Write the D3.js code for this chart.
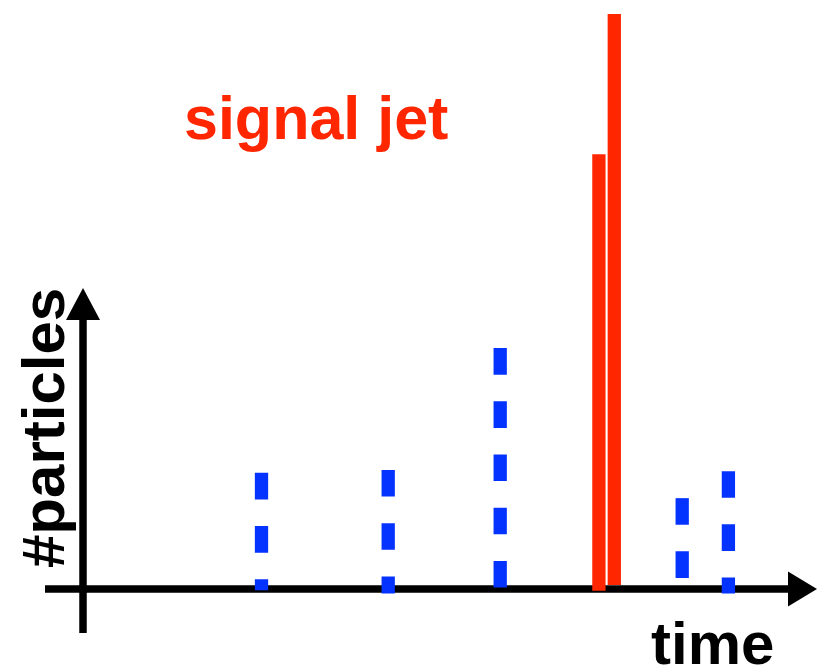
<!DOCTYPE html>
<html>
<head>
<meta charset="utf-8">
<script src="https://cdn.jsdelivr.net/npm/d3@7"></script>
<style>
  html, body { margin: 0; padding: 0; background: #ffffff; }
  svg { display: block; }
  text { font-family: "Liberation Sans", Arial, Helvetica, sans-serif; font-weight: bold; }
</style>
</head>
<body>
<div id="chart"></div>
<script>
// Background particles: time of arrival and particle count (dashed blue lines)
const bgTime  = [25.5, 43.6, 59.6, 85.6, 92.2];
const bgCount = [2.02, 2.07, 4.19, 1.58, 2.05];
const bgBase  = [-0.02, -0.08, -0.08, -0.08, -0.08];

// Signal jet: two tall solid red spikes
const sigTime  = [73.7, 75.9];
const sigCount = [7.56, 10.0];
const sigBase  = [-0.03, 0.07];

const labels = { signal: "signal jet", xTitle: "time", yTitle: "#particles" };

const W = 818, H = 669;
const blue = "#0433ff", red = "#ff2600";

const svg = d3.select("#chart").append("svg")
  .attr("width", W).attr("height", H);

const x = d3.scaleLinear().domain([0, 100]).range([83, 783]);
const y = d3.scaleLinear().domain([0, 10]).range([589, 14]);

// Axes with arrowheads
const x0 = x(0), y0 = y(0);
const axis = svg.append("g");
axis.append("line")
  .attr("x1", 45).attr("x2", 790)
  .attr("y1", y0).attr("y2", y0)
  .attr("stroke", "#000").attr("stroke-width", 7.5);
axis.append("path")
  .attr("d", `M${788},${y0 - 17.5} L${817},${y0} L${788},${y0 + 17.5} Z`)
  .attr("fill", "#000");
axis.append("line")
  .attr("x1", x0).attr("x2", x0)
  .attr("y1", 633).attr("y2", 318)
  .attr("stroke", "#000").attr("stroke-width", 7.5);
axis.append("path")
  .attr("d", `M${x0 - 17},${320} L${x0},${288} L${x0 + 17},${320} Z`)
  .attr("fill", "#000");

// Dashed background lines, dash pattern starting at the top
svg.append("g").selectAll("line")
  .data(d3.range(bgTime.length))
  .join("line")
  .attr("x1", i => x(bgTime[i])).attr("x2", i => x(bgTime[i]))
  .attr("y1", i => y(bgCount[i])).attr("y2", i => y(bgBase[i]))
  .attr("stroke", blue)
  .attr("stroke-width", 13.3)
  .attr("stroke-dasharray", "26.6 26.6");

// Signal spikes
svg.append("g").selectAll("line")
  .data(d3.range(sigTime.length))
  .join("line")
  .attr("x1", i => x(sigTime[i])).attr("x2", i => x(sigTime[i]))
  .attr("y1", i => y(sigCount[i])).attr("y2", i => y(sigBase[i]))
  .attr("stroke", red)
  .attr("stroke-width", 13.3);

// Labels
svg.append("text")
  .attr("x", 184).attr("y", 138.5)
  .attr("font-size", 61)
  .attr("fill", red)
  .text(labels.signal);

svg.append("text")
  .attr("x", 651).attr("y", 663.5)
  .attr("font-size", 60)
  .attr("fill", "#000")
  .text(labels.xTitle);

svg.append("text")
  .attr("transform", "translate(64,568) rotate(-90)")
  .attr("font-size", 60)
  .attr("fill", "#000")
  .text(labels.yTitle);
</script>
</body>
</html>
